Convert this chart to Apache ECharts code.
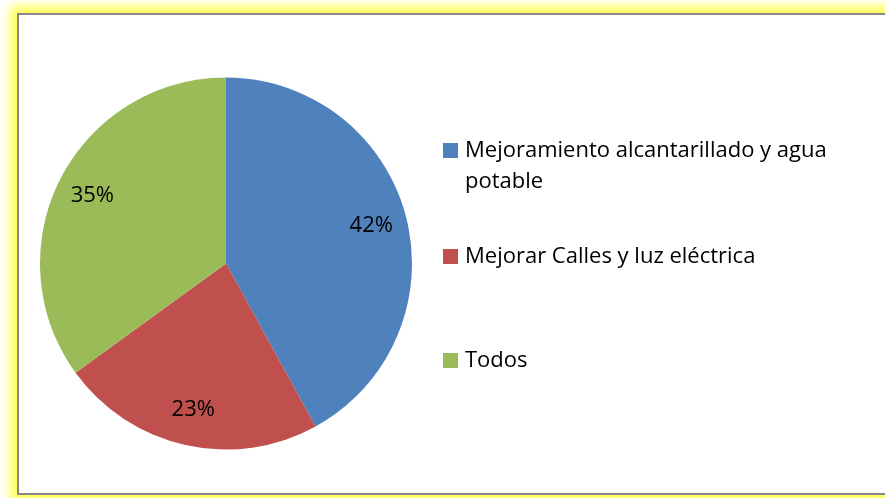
<!DOCTYPE html>
<html>
<head>
<meta charset="utf-8">
<script src="https://cdn.jsdelivr.net/npm/echarts@6/dist/echarts.min.js"></script>
<style>
  html, body { margin: 0; padding: 0; background: #fff; overflow: hidden; }
  #frame {
    position: absolute; left: 17px; top: 13px; width: 900px; height: 478px;
    border: 2px solid #878787; box-shadow: 0 0 10px 7px #ffff55; background: #fff;
  }
  #main { position: absolute; left: 0; top: 0; width: 885px; height: 498px; }
</style>
</head>
<body>
<div id="frame"></div>
<div id="main"></div>
<script>
// datos de la torta
const categorias = ['Mejoramiento alcantarillado y agua potable', 'Mejorar Calles y luz eléctrica', 'Todos'];
const porcentajes = [42, 23, 35];
const colores = ['#4F81BD', '#C0504D', '#9BBB59'];

const chart = echarts.init(document.getElementById('main'));

const datos = categorias.map(function (c, i) {
  return { name: c, value: porcentajes[i], itemStyle: { color: colores[i] } };
});

const fuente = 'Open Sans';
const textoLeyenda = { color: '#000', fontFamily: fuente, fontSize: 22, lineHeight: 31, padding: [0, 0, 0, 2] };

// una leyenda por item para imitar el espaciado de Excel
function leyenda(nombre, top) {
  return {
    orient: 'vertical', left: 443, top: top, padding: 0,
    icon: 'rect', itemWidth: 15, itemHeight: 15,
    selectedMode: false,
    data: [nombre],
    formatter: function (n) {
      // linea vacia arriba para que el cuadrito quede junto a la primera linea
      return n === categorias[0] ? '\nMejoramiento alcantarillado y agua\npotable' : n;
    },
    textStyle: textoLeyenda
  };
}

const option = {
  animation: false,
  legend: [
    leyenda(categorias[0], 104),
    leyenda(categorias[1], 241),
    leyenda(categorias[2], 345)
  ],
  series: [{
    type: 'pie',
    center: [226, 263.5],
    radius: [0, 186],
    startAngle: 90,
    clockwise: true,
    label: { show: false },
    labelLine: { show: false },
    emphasis: { disabled: true },
    silent: true,
    data: datos
  }, {
    // capa transparente solo para ubicar las etiquetas a ~0.8 del radio
    type: 'pie',
    center: [226, 263.5],
    radius: [108, 186],
    startAngle: 90,
    clockwise: true,
    silent: true,
    emphasis: { disabled: true },
    itemStyle: { color: 'rgba(0,0,0,0)' },
    label: {
      show: true, position: 'inside', formatter: '{c}%',
      color: '#000', fontFamily: fuente, fontSize: 22
    },
    labelLine: { show: false },
    data: categorias.map(function (c, i) { return { name: c, value: porcentajes[i] }; })
  }]
};

chart.setOption(option);
</script>
</body>
</html>
